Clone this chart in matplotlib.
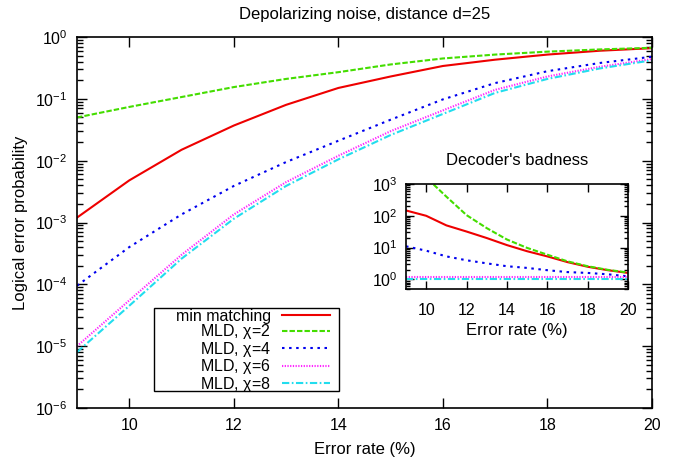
import numpy as np
import matplotlib
matplotlib.use("Agg")
import matplotlib.pyplot as plt
from matplotlib.patches import Rectangle
from matplotlib.ticker import LogLocator, NullFormatter

plt.rcParams['font.family'] = ['Liberation Sans', 'DejaVu Sans']
plt.rcParams['mathtext.fontset'] = 'custom'
plt.rcParams['mathtext.rm'] = 'Liberation Sans'
plt.rcParams['mathtext.it'] = 'Liberation Sans:italic'
plt.rcParams['mathtext.default'] = 'regular'
plt.rcParams['font.size'] = 12

# error rate (%)
p = [9, 10, 11, 12, 13, 14, 15, 16, 17, 18, 19, 20]

# logical error probability, main plot
min_matching = [1.2e-3, 4.8e-3, 0.015, 0.037, 0.08, 0.15, 0.23, 0.34, 0.43, 0.52, 0.60, 0.66]
mld_chi2 = [0.05, 0.074, 0.107, 0.155, 0.21, 0.27, 0.36, 0.45, 0.52, 0.58, 0.63, 0.67]
mld_chi4 = [9.5e-5, 4.0e-4, 1.35e-3, 3.9e-3, 9.5e-3, 0.021, 0.046, 0.098, 0.18, 0.28, 0.38, 0.48]
mld_chi6 = [1.0e-5, 5.5e-5, 3.0e-4, 1.35e-3, 4.5e-3, 0.012, 0.030, 0.065, 0.14, 0.23, 0.33, 0.44]
mld_chi8 = [8.0e-6, 4.5e-5, 2.6e-4, 1.15e-3, 3.9e-3, 0.0105, 0.026, 0.057, 0.125, 0.21, 0.31, 0.42]

# decoder's badness (inset)
bad_mm = [147, 100, 50, 32, 20, 12, 7.7, 5.3, 3.5, 2.5, 1.95, 1.6]
bad_chi2 = [6000, 1600, 400, 105, 41, 18, 9.8, 6.0, 3.7, 2.6, 2.0, 1.65]
bad_chi4 = [11, 8, 5.3, 4.0, 3.2, 2.6, 2.3, 1.95, 1.7, 1.6, 1.45, 1.25]
bad_chi6 = [1.2, 1.2, 1.2, 1.2, 1.2, 1.2, 1.2, 1.2, 1.2, 1.2, 1.2, 1.2]
bad_chi8 = [1.0, 1.0, 1.0, 1.0, 1.0, 1.0, 1.0, 1.0, 1.0, 1.0, 1.0, 1.0]

xticks = [10, 12, 14, 16, 18, 20]
main_yticks = [1e-6, 1e-5, 1e-4, 1e-3, 1e-2, 1e-1, 1]
inset_yticks = [1, 10, 100, 1000]

labels = ['min matching', r'MLD, $\chi$=2', r'MLD, $\chi$=4', r'MLD, $\chi$=6', r'MLD, $\chi$=8']
colors = ['#ee0000', '#44dd00', '#0000ee', '#ff22ff', '#22ddee']
styles = ['-', (0, (2.6, 1.0)), (0, (1.2, 2.2)), (0, (0.6, 0.7)), (0, (3.5, 1.2, 0.8, 1.2))]

fig = plt.figure(figsize=(6.85, 4.61), dpi=100)
ax = fig.add_axes([0.1124, 0.115, 0.8394, 0.8047])

main_data = [min_matching, mld_chi2, mld_chi4, mld_chi6, mld_chi8]
for y, lab, c, ls in zip(main_data, labels, colors, styles):
    ax.plot(p, y, color=c, ls=ls, lw=1.5, label=lab)

ax.set_yscale('log')
ax.set_xlim(9, 20)
ax.set_ylim(1e-6, 1)
ax.set_xticks(xticks)
ax.set_yticks(main_yticks)
ax.yaxis.set_minor_locator(LogLocator(base=10, subs=np.arange(2, 10), numticks=10))
ax.yaxis.set_minor_formatter(NullFormatter())
ax.tick_params(which='both', direction='in', top=True, right=True, width=1, labelsize=11.5)
ax.tick_params(which='major', length=7, pad=7)
ax.tick_params(which='minor', length=4)
for s in ax.spines.values():
    s.set_linewidth(1.2)
ax.set_xlabel('Error rate (%)', labelpad=7)
ax.set_ylabel('Logical error probability', labelpad=5)
ax.set_title('Depolarizing noise, distance d=25', fontsize=12, pad=13)

# gnuplot-like key: labels right-aligned before the samples, box drawn separately
leg = ax.legend(loc='center right', bbox_to_anchor=(0.44, 0.153), markerfirst=False,
                frameon=False, handlelength=3.0, handletextpad=0.7,
                labelspacing=-0.1, borderpad=0, borderaxespad=0, fontsize=11.5)
ax.add_patch(Rectangle((0.1339, 0.0458), 0.3218, 0.2237, transform=ax.transAxes,
                       fill=False, edgecolor='black', lw=1.0, zorder=5))

# inset
ins = fig.add_axes([0.5927, 0.3731, 0.3241, 0.2278])
bad_data = [bad_mm, bad_chi2, bad_chi4, bad_chi6, bad_chi8]
for y, c, ls in zip(bad_data, colors, styles):
    ins.plot(p, y, color=c, ls=ls, lw=1.5)
ins.set_yscale('log')
ins.set_xlim(9, 20)
ins.set_ylim(0.5, 1000)
ins.set_xticks(xticks)
ins.set_yticks(inset_yticks)
ins.yaxis.set_minor_locator(LogLocator(base=10, subs=np.arange(2, 10), numticks=10))
ins.yaxis.set_minor_formatter(NullFormatter())
ins.tick_params(which='both', direction='in', top=True, right=True, width=1, labelsize=11.5)
ins.tick_params(which='major', length=6, pad=10)
ins.tick_params(which='major', axis='y', pad=6)
ins.tick_params(which='minor', length=3)
for s in ins.spines.values():
    s.set_linewidth(1.2)
ins.set_xlabel('Error rate (%)', labelpad=4)
ins.set_title("Decoder's badness", fontsize=12, pad=14)

fig.savefig('out.png', dpi=100)
